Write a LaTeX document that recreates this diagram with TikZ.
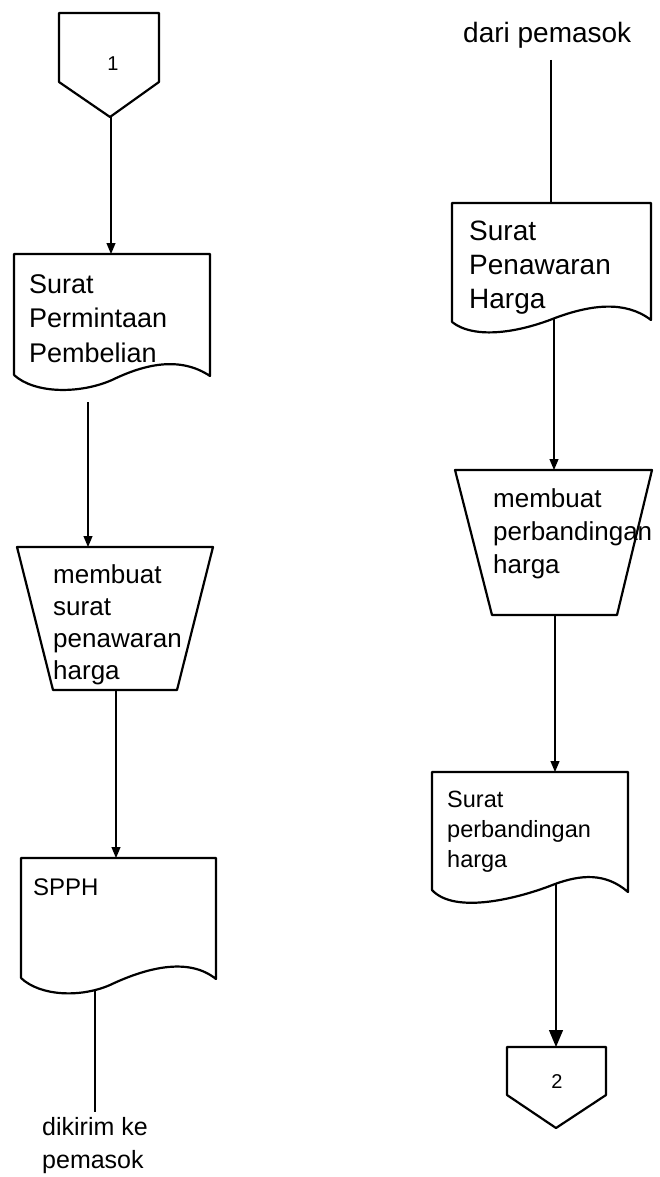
\documentclass[tikz,border=0pt]{standalone}
\usepackage{fontspec}
\setmainfont{Liberation Sans}
\usetikzlibrary{arrows.meta}
% left-aligned stack of lines whose baseline is the first line's baseline
\newcommand\stacklines[1]{\vtop{\halign{##\hfil\cr#1\crcr}}}

\begin{document}
\begin{tikzpicture}[x=1pt,y=-1pt,
  shapeline/.style={line width=2.2pt,line join=round,line cap=round},
  flow/.style={line width=1.2pt},
  flowarrow/.style={flow,-{Triangle[width=9pt,length=11pt]}},
  bigarrow/.style={flow,-{Triangle[width=14pt,length=17pt]}},
  txt/.style={inner sep=0pt,anchor=base west},
]
\useasboundingbox (0,0) rectangle (659,1177);

% ---------- left column ----------
% off-page connector 1
\draw[shapeline] (59,13) -- (159,13) -- (159,82) -- (110,117) -- (59,82) -- cycle;
\node[inner sep=0pt,font=\fontsize{20}{24}\selectfont] (n1) at (113,64) {1};
\coordinate (c1out) at (111,117);

% document: Surat Permintaan Pembelian
\draw[shapeline] (14,375) -- (14,254) -- (210,254) -- (210,376)
  .. controls (180,356) and (145,364) .. (112,380)
  .. controls (80,394) and (35,394) .. (14,375);
\coordinate (d1in) at (111,254);
\node[txt,font=\fontsize{27}{34.5}\selectfont] (d1txt) at (29,293)
  {\stacklines{Surat\cr Permintaan\cr Pembelian}};
\coordinate (d1out) at (88,402);

% manual operation: membuat surat penawaran harga
\draw[shapeline] (17,547) -- (213,547) -- (177,690) -- (53,690) -- cycle;
\coordinate (t1in) at (88,547);
\node[txt,font=\fontsize{26}{32.3}\selectfont] (t1txt) at (53,583)
  {\stacklines{membuat\cr surat\cr penawaran\cr harga}};
\coordinate (t1out) at (116,690);

% document: SPPH
\draw[shapeline] (21,978) -- (21,858) -- (216,858) -- (216,979)
  .. controls (190,958) and (150,966) .. (110,985)
  .. controls (80,998) and (40,996) .. (21,978);
\coordinate (spin) at (116,858);
\node[txt,font=\fontsize{24}{28}\selectfont] (sptxt) at (33,895) {SPPH};
\coordinate (spout) at (95,990);
\coordinate (spend) at (95,1112);
\node[txt,font=\fontsize{25}{33}\selectfont] (dest) at (42,1135)
  {\stacklines{dikirim ke\cr pemasok}};

\draw[flowarrow] (c1out) -- (d1in);
\draw[flowarrow] (d1out) -- (t1in);
\draw[flowarrow] (t1out) -- (spin);
\draw[flow] (spout) -- (spend);

% ---------- right column ----------
\node[txt,font=\fontsize{28}{32}\selectfont] (src) at (463,43) {dari pemasok};
\coordinate (srcend) at (551,60);

% document: Surat Penawaran Harga
\draw[shapeline] (452,322) -- (452,203) -- (651,203) -- (651,320)
  .. controls (625,300) and (590,305) .. (555,318)
  .. controls (520,332) and (475,340) .. (452,322);
\coordinate (d2in) at (551,203);
\node[txt,font=\fontsize{28}{34}\selectfont] (d2txt) at (469,240)
  {\stacklines{Surat\cr Penawaran\cr Harga}};
\coordinate (d2out) at (554,318);

% manual operation: membuat perbandingan harga
\draw[shapeline] (455,470) -- (652,470) -- (617,615) -- (492,615) -- cycle;
\coordinate (t2in) at (554,470);
\node[txt,font=\fontsize{26}{33}\selectfont] (t2txt) at (493,507)
  {\stacklines{membuat\cr perbandingan\cr harga}};
\coordinate (t2out) at (555,615);

% document: Surat perbandingan harga
\draw[shapeline] (432,890) -- (432,772) -- (628,772) -- (628,892)
  .. controls (605,872) and (580,875) .. (555,884)
  .. controls (520,898) and (455,915) .. (432,890);
\coordinate (d3in) at (555,772);
\node[txt,font=\fontsize{23.5}{30}\selectfont] (d3txt) at (447,807)
  {\stacklines{Surat\cr perbandingan\cr harga}};
\coordinate (d3out) at (556,884);

% off-page connector 2
\draw[shapeline] (507,1047) -- (606,1047) -- (606,1095) -- (556,1128) -- (507,1095) -- cycle;
\coordinate (c2in) at (556,1047);
\node[inner sep=0pt,font=\fontsize{20}{24}\selectfont] (n2) at (557,1082) {2};

\draw[flow] (srcend) -- (d2in);
\draw[flowarrow] (d2out) -- (t2in);
\draw[flowarrow] (t2out) -- (d3in);
\draw[bigarrow] (d3out) -- (c2in);
\end{tikzpicture}
\end{document}
